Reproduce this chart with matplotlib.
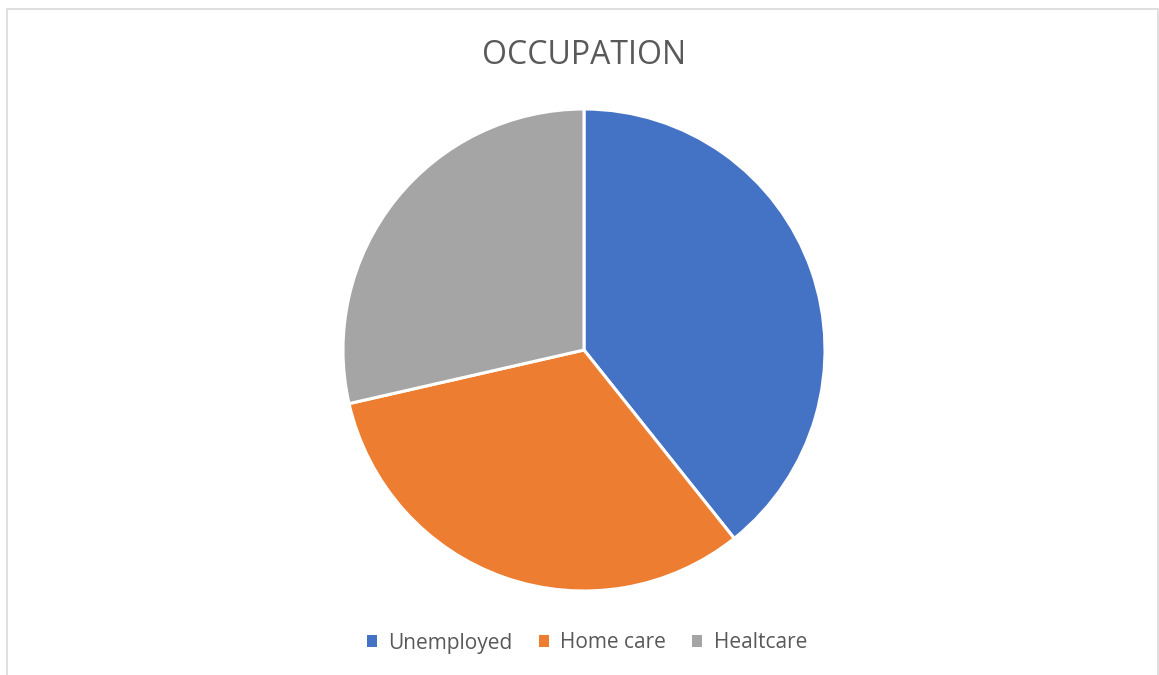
import matplotlib
matplotlib.use('Agg')
import matplotlib.pyplot as plt
from matplotlib.patches import Rectangle

# occupation counts
categories = ['Unemployed', 'Home care', 'Healtcare']
counts = [11, 9, 8]
colors = ['#4472C4', '#ED7D31', '#A5A5A5']

plt.rcParams['font.family'] = ['Open Sans', 'DejaVu Sans']

W, H = 1159, 675
fig = plt.figure(figsize=(W / 100, H / 100), dpi=100)

# light chart-area border
fig.patches.append(Rectangle((7 / W, -0.01), (1157.5 - 7) / W, (H - 9) / H + 0.01,
                             transform=fig.transFigure, fill=False,
                             edgecolor='#D9D9D9', linewidth=1.2))

cx, cy, r = 584, 350, 241
ax = fig.add_axes([(cx - r) / W, (H - cy - r) / H, 2 * r / W, 2 * r / H])
wedges, _ = ax.pie(counts, colors=colors, startangle=90, counterclock=False,
                   radius=1.0,
                   wedgeprops=dict(edgecolor='white', linewidth=2.2))
ax.set_xlim(-1, 1)
ax.set_ylim(-1, 1)
ax.set_aspect('equal')
ax.axis('off')

fig.text(cx / W, 1 - 56 / H, 'OCCUPATION', ha='center', va='center',
         fontsize=23, color='#595959')

leg = fig.legend(wedges, categories, loc='center', bbox_to_anchor=(587 / W, 1 - 643 / H),
                 ncol=3, frameon=False, fontsize=15, labelcolor='#595959',
                 handlelength=0.48, handleheight=0.48, handletextpad=0.55,
                 columnspacing=1.25)
for h in leg.legend_handles:
    h.set_edgecolor('none')

fig.savefig('out.png', dpi=100)
